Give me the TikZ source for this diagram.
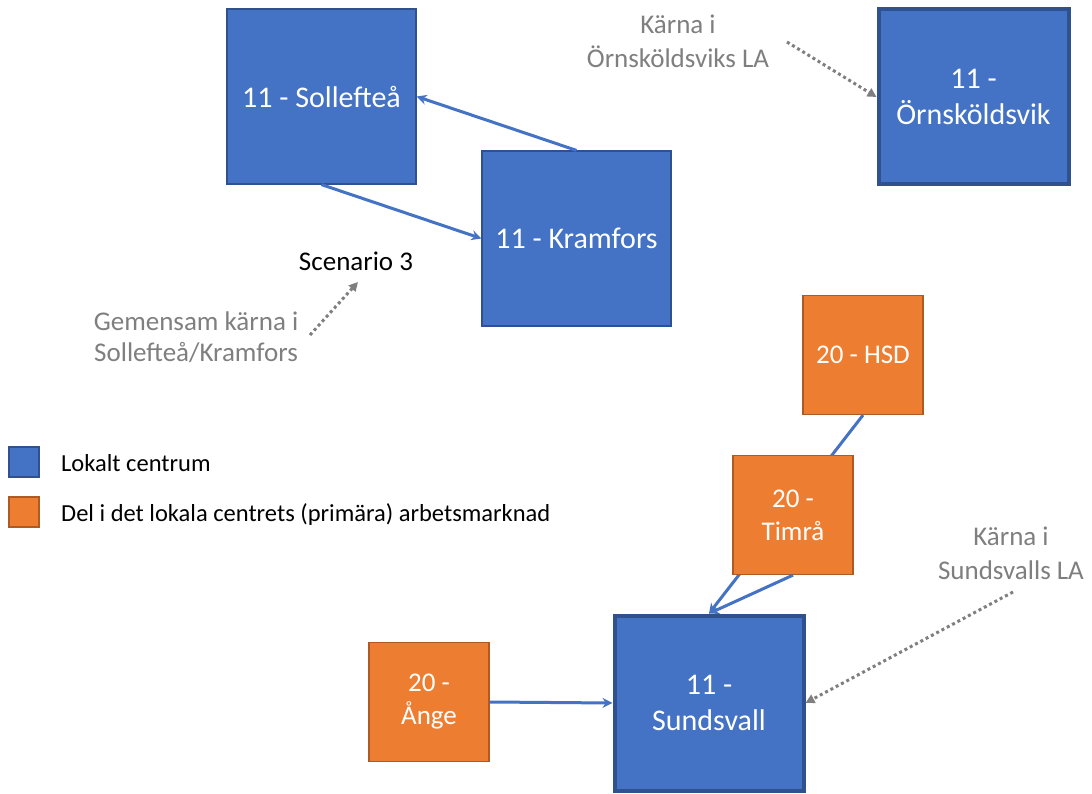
\documentclass[tikz,border=0pt]{standalone}
\usepackage{fontspec}
\setmainfont{Carlito}
\usetikzlibrary{arrows.meta}
\definecolor{bfill}{HTML}{4472C4}
\definecolor{bdraw}{HTML}{2F528F}
\definecolor{ofill}{HTML}{ED7D31}
\definecolor{odraw}{HTML}{AE5A21}
\definecolor{gtext}{HTML}{7F7F7F}
\tikzset{
  bluebox/.style={draw=bdraw, fill=bfill, line width=1.2pt, inner sep=0pt, text=white, align=center, font=\fontsize{30}{36}\selectfont},
  corebox/.style={bluebox, line width=4pt},
  orangebox/.style={draw=odraw, fill=ofill, line width=1.2pt, inner sep=0pt, text=white, align=center, font=\fontsize{27}{33}\selectfont, minimum width=120pt, minimum height=119pt},
  link/.style={draw=bfill, line width=3pt, -{Stealth[length=10pt,width=10pt]}},
  dotarrow/.style={draw=gtext, line width=3pt, dash pattern=on 3pt off 3pt, -{Triangle[length=9pt,width=9pt]}},
  graylabel/.style={text=gtext, align=center, font=\fontsize{27}{34}\selectfont, inner sep=0pt},
  legtext/.style={anchor=west, inner sep=0pt, font=\fontsize{24.5}{29}\selectfont},
}
\begin{document}
\begin{tikzpicture}[x=1pt,y=-1pt]
\useasboundingbox (0,0) rectangle (1092,794);
\fill[white] (0,0) rectangle (1092,794);

% top cluster
\node[bluebox, minimum width=189pt, minimum height=175pt] (sol) at (321.5,96.5) {11 - Sollefteå};
\node[bluebox, minimum width=189pt, minimum height=175pt] (kra) at (576.5,238.5) {11 - Kramfors};
\node[corebox, minimum width=190pt, minimum height=175pt] (orn) at (973.5,97) {11 -\\Örnsköldsvik};

\draw[link] (kra.north) -- (sol.east);
\draw[link] (sol.south) -- (kra.west);

% labels top
\node[graylabel] (kornl) at (678,41) {Kärna i\\Örnsköldsviks LA};
\coordinate (kornstart) at (787,42);
\draw[dotarrow] (kornstart) -- (orn.west);

\node[inner sep=0pt, font=\fontsize{27}{32}\selectfont] (scen) at (356,261) {Scenario 3};
\node[graylabel, font=\fontsize{27}{31}\selectfont] (gem) at (196,337) {Gemensam kärna i\\Sollefteå/Kramfors};
\coordinate (gemstart) at (310,335);
\coordinate (gemend) at (358,282);
\draw[dotarrow] (gemstart) -- (gemend);

% bottom cluster
\node[orangebox] (hsd) at (863,355) {20 - HSD};
\node[corebox, minimum width=189pt, minimum height=175pt] (sun) at (709,703) {11 -\\Sundsvall};
\node[orangebox] (ange) at (429,702) {20 -\\Ånge};

\draw[link] (hsd.south) -- (sun.north);
\node[orangebox] (tim) at (793,515) {20 -\\Timrå};
\draw[link] (tim.south) -- (sun.north);
\draw[link] (ange.east) -- (sun.west);

\node[graylabel] (ksun) at (1011,553) {Kärna i\\Sundsvalls LA};
\coordinate (ksunstart) at (1013,592);
\draw[dotarrow] (ksunstart) -- (sun.east);

% legend
\node[draw=bdraw, fill=bfill, line width=1.2pt, minimum width=30pt, minimum height=30pt, inner sep=0pt] (legb) at (24,462) {};
\node[legtext] (legbt) at (61,463) {Lokalt centrum};
\node[draw=odraw, fill=ofill, line width=1.2pt, minimum width=30pt, minimum height=30pt, inner sep=0pt] (lego) at (24,512) {};
\node[legtext] (legot) at (61,515) {Del i det lokala centrets (primära) arbetsmarknad};
\end{tikzpicture}
\end{document}
